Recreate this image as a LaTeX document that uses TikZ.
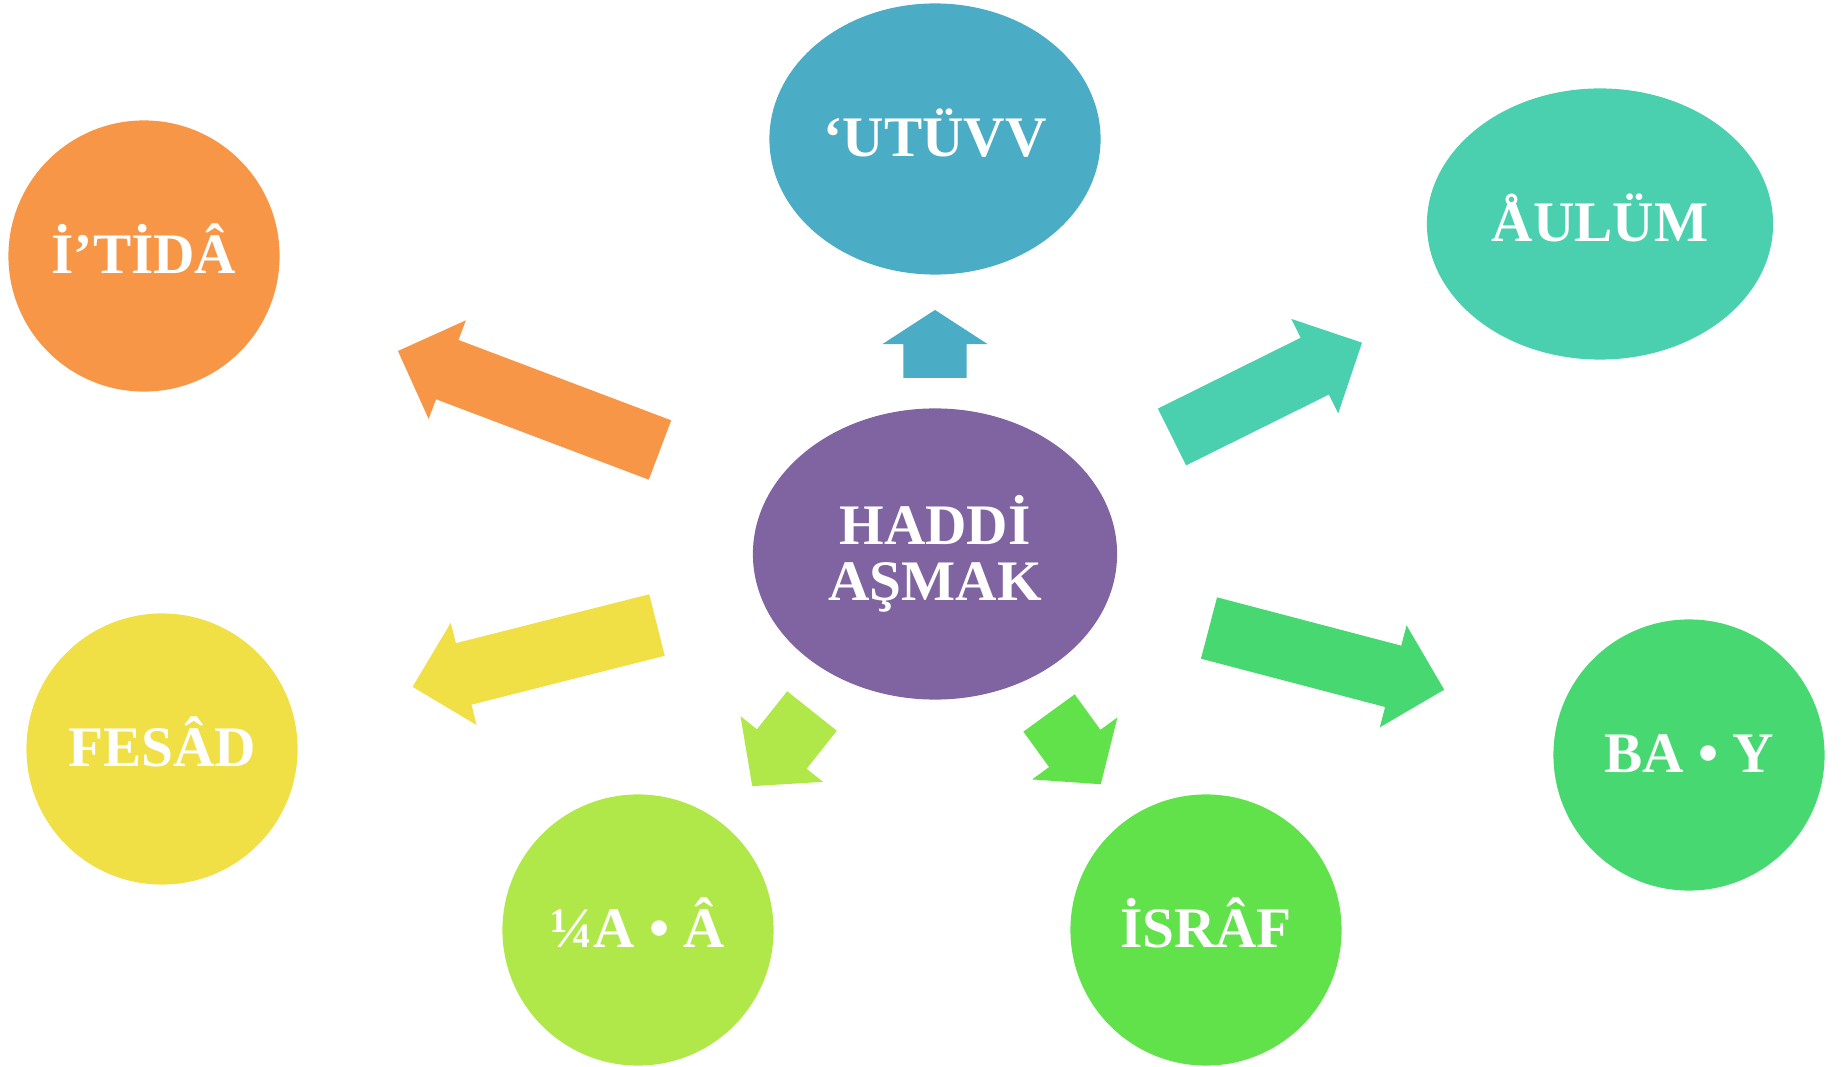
\documentclass[tikz,border=0pt]{standalone}
\usepackage{fontspec}
\setmainfont{Liberation Serif}
\usepackage{xcolor}
\definecolor{hubPurple}{HTML}{8064A2}
\definecolor{bubOrange}{HTML}{F79646}
\definecolor{bubBlue}{HTML}{4BACC6}
\definecolor{bubTeal}{HTML}{4ACFAF}
\definecolor{bubYellow}{HTML}{F0E046}
\definecolor{bubLime}{HTML}{B0E84A}
\definecolor{bubGreen}{HTML}{62E24A}
\definecolor{bubMint}{HTML}{48D872}
\usetikzlibrary{shapes.geometric,shapes.arrows}
\tikzset{
    bubble/.style={
        ellipse,
        draw=none,
        inner sep=0pt,
        align=center,
        text=white,
        font=\fontsize{16.3}{16}\selectfont\bfseries
    },
    oneline/.style={
        bubble,
        text height=10pt,
        text depth=0pt
    },
    circ/.style={
        oneline,
        minimum width=2.71cm,
        minimum height=2.71cm
    },
    blockarrow/.style={
        single arrow,
        draw=none,
        inner xsep=0pt,
        inner ysep=0.31cm,
        outer sep=0pt,
        single arrow head extend=0.21cm,
        anchor=tail
    }
}

\begin{document}
\begin{tikzpicture}[x=0.01cm, y=-0.01cm]
    \useasboundingbox (0,0) rectangle (1842,1067);

    % Center
    \node[bubble, fill=hubPurple, minimum width=3.64cm, minimum height=2.91cm] (hub) at (935,554) {HADDİ\\AŞMAK};

    % Outer bubbles
    \node[oneline, fill=bubBlue, minimum width=3.31cm, minimum height=2.71cm] (utuvv) at (935,139) {‘UTÜVV};
    \node[oneline, fill=bubTeal, minimum width=3.46cm, minimum height=2.71cm] (ulum) at (1600,224) {ÅULÜM};
    \node[circ, fill=bubOrange] (itida) at (144,256) {İ’TİDÂ};
    \node[circ, fill=bubYellow] (fesad) at (162,749) {FESÂD};
    \node[circ, fill=bubLime] (kaa) at (638,930) {¼A • Â};
    \node[circ, fill=bubGreen] (israf) at (1206,930) {İSRÂF};
    \node[circ, fill=bubMint] (bay) at (1689,755) {BA • Y};

    % Arrows out of the center
    \node[blockarrow, fill=bubBlue, rotate=90, minimum height=0.68cm, single arrow tip angle=114] (toUtuvv) at (935,378) {};
    \node[blockarrow, fill=bubTeal, rotate=26.4, minimum height=2.12cm] (toUlum) at (1172,437) {};
    \node[blockarrow, fill=bubOrange, rotate=159.3, minimum height=2.80cm] (toItida) at (660,450) {};
    \node[blockarrow, fill=bubYellow, rotate=194.2, minimum height=2.52cm] (toFesad) at (657,625) {};
    \node[blockarrow, fill=bubLime, rotate=231.5, minimum height=0.96cm, single arrow tip angle=96] (toKaa) at (812,711) {};
    \node[blockarrow, fill=bubGreen, rotate=306, minimum height=0.88cm, single arrow tip angle=100] (toIsraf) at (1049,713) {};
    \node[blockarrow, fill=bubMint, rotate=345.3, minimum height=2.43cm] (toBay) at (1209,628) {};
\end{tikzpicture}
\end{document}
